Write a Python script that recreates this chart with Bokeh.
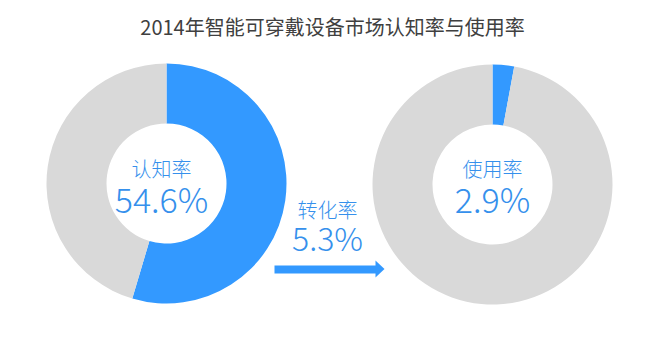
import math
from bokeh.plotting import figure
from bokeh.models import Range1d, Label
from bokeh.embed import file_html
from bokeh.resources import INLINE

# ---- data ----
title_text = "2014年智能可穿戴设备市场认知率与使用率"
ring_labels = ["认知率", "使用率"]
ring_values = [54.6, 2.9]          # percent
conversion_label = "转化率"
conversion_value = 5.3             # percent

# ---- style / layout ----
BLUE = "#3399ff"
GREY = "#d9d9d9"
TEXT_BLUE = "#3590ec"
TITLE_COLOR = "#404040"
CJK = "Noto Sans CJK SC"
LIGHT = "Noto Sans CJK SC Light"

W, H = 634, 347
PAGE_H = 363

def Y(py):  # page y -> data y
    return PAGE_H - py

p = figure(width=W, height=H, output_backend="svg", toolbar_location=None,
           x_range=Range1d(0, W), y_range=Range1d(Y(H), Y(0)),
           min_border=0, outline_line_color=None)
p.axis.visible = False
p.grid.visible = False
p.background_fill_color = "white"
p.border_fill_color = "white"

centers_x = [166, 492]
centers_y = [Y(183), Y(184)]
R_OUT, R_IN = 120, 60

for cx, cy, v in zip(centers_x, centers_y, ring_values):
    frac = v / 100.0
    start = math.pi / 2
    mid = start - frac * 2 * math.pi
    end = start - 2 * math.pi
    p.annular_wedge(x=[cx], y=[cy], inner_radius=R_IN, outer_radius=R_OUT,
                    start_angle=[start], end_angle=[mid], direction="clock",
                    fill_color=BLUE, line_color=None)
    p.annular_wedge(x=[cx], y=[cy], inner_radius=R_IN, outer_radius=R_OUT,
                    start_angle=[mid], end_angle=[end], direction="clock",
                    fill_color=GREY, line_color=None)

# title
p.add_layout(Label(x=332, y=Y(26), text=title_text, text_align="center",
                   text_baseline="middle", text_font=CJK, text_font_size="20px",
                   text_color=TITLE_COLOR))

# ring labels
label_x = [161, 492]
for lx, name, v in zip(label_x, ring_labels, ring_values):
    p.add_layout(Label(x=lx, y=Y(168), text=name, text_align="center",
                       text_baseline="middle", text_font=LIGHT, text_font_size="20px",
                       text_color=TEXT_BLUE))
    p.add_layout(Label(x=lx, y=Y(198), text=f"{v}%", text_align="center",
                       text_baseline="alphabetic", text_font=LIGHT,
                       text_font_size="34px", text_color=TEXT_BLUE))

# conversion
p.add_layout(Label(x=327, y=Y(209), text=conversion_label, text_align="center",
                   text_baseline="middle", text_font=LIGHT, text_font_size="20px",
                   text_color=TEXT_BLUE))
p.add_layout(Label(x=327, y=Y(236), text=f"{conversion_value}%", text_align="center",
                   text_baseline="alphabetic", text_font=LIGHT,
                   text_font_size="32px", text_color=TEXT_BLUE))

# arrow
p.quad(left=274, right=376, bottom=Y(273), top=Y(265), fill_color=BLUE, line_color=None)
p.patch(x=[375, 375, 384], y=[Y(260), Y(277), Y(268.5)], fill_color=BLUE, line_color=None)

open("out.html", "w").write(file_html(p, INLINE))
